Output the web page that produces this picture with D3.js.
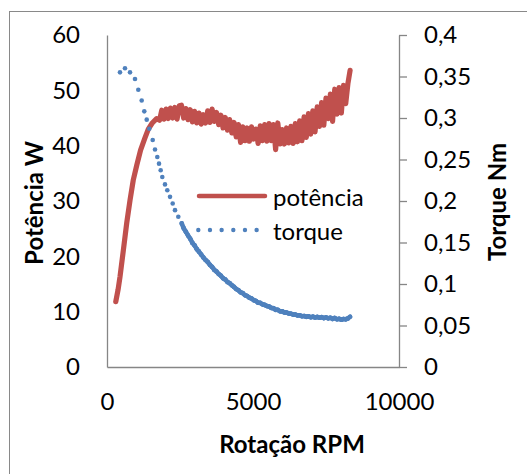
<!DOCTYPE html>
<html>
<head>
<meta charset="utf-8">
<script src="https://cdn.jsdelivr.net/npm/d3@7"></script>
<style>
  body { margin: 0; background: #fff; }
  svg text { font-family: Lato, "Open Sans", sans-serif; fill: #000; }
</style>
</head>
<body>
<div id="chart"></div>
<script>
// potência (W) vs rotação (RPM)
const powerRpm = [300, 380, 445, 560, 675, 790, 900, 1020, 1150, 1300, 1415, 1550, 1700,
  1800, 1875, 1950, 2025, 2100, 2175, 2250, 2325, 2400, 2475, 2550, 2625, 2700, 2775, 2850, 2925,
  3000, 3075, 3150, 3225, 3300, 3375, 3450, 3525, 3600, 3675, 3750, 3825, 3900, 3975,
  4050, 4125, 4200, 4275, 4350, 4425, 4500, 4575, 4650, 4725, 4800, 4875, 4950,
  5025, 5100, 5175, 5250, 5325, 5400, 5475, 5550, 5625, 5700, 5775, 5850, 5925,
  6000, 6075, 6150, 6225, 6300, 6375, 6450, 6525, 6600, 6675, 6750, 6825, 6900, 6975,
  7050, 7125, 7200, 7275, 7350, 7425, 7500, 7575, 7650, 7725, 7800, 7875, 7950,
  8025, 8100, 8175, 8250, 8325];
const power = [11.8, 14.0, 16.3, 21.1, 26.0, 30.2, 33.8, 36.5, 39.2, 41.4, 43.0, 44.1, 44.9,
  44.6, 46.4, 44.8, 46.6, 44.9, 46.8, 45.0, 46.9, 44.8, 47.2, 47.3, 45.0, 46.7, 44.7, 46.5, 44.3,
  46.2, 44.1, 45.9, 43.9, 45.6, 44.1, 46.3, 44.2, 46.6, 44.4, 46.0, 43.8, 45.5, 43.2,
  45.1, 42.8, 44.7, 42.3, 44.2, 41.6, 43.8, 40.6, 43.4, 40.9, 43.2, 40.8, 43.4,
  41.2, 43.0, 40.4, 43.6, 40.9, 43.8, 40.8, 44.0, 40.9, 43.8, 39.3, 44.1, 40.3,
  42.9, 40.3, 43.2, 40.5, 43.5, 40.4, 44.0, 40.7, 44.5, 40.9, 45.2, 41.5, 45.8, 42.1,
  46.3, 42.5, 47.0, 43.5, 47.8, 43.7, 48.6, 44.9, 49.3, 44.4, 50.2, 45.7, 50.5,
  45.9, 50.9, 47.6, 51.2, 53.6];

// torque (Nm) vs rotação (RPM)
const torqueRpm = [445, 616, 788, 959, 1072, 1188, 1277, 1360, 1449, 1565, 1644, 1723, 1781,
  1839, 1894, 1986, 2065, 2158, 2250, 2329, 2442, 2558, 2630,
  2700, 2775, 2850, 2925, 3000, 3075, 3150, 3225, 3300, 3375, 3450, 3525, 3600, 3675,
  3750, 3825, 3900, 3975, 4050, 4125, 4200, 4275, 4350, 4425, 4500, 4575, 4650, 4725,
  4800, 4875, 4950, 5025, 5100, 5175, 5250, 5325, 5400, 5475, 5550, 5625, 5700, 5775,
  5850, 5925, 6000, 6075, 6150, 6225, 6300, 6375, 6450, 6525, 6600, 6675, 6750, 6825,
  6900, 6975, 7050, 7125, 7200, 7275, 7350, 7425, 7500, 7575, 7650, 7725, 7800, 7875,
  7950, 8025, 8100, 8175, 8250, 8325];
const torque = [0.355, 0.360, 0.355, 0.347, 0.334, 0.321, 0.308, 0.298, 0.287, 0.2735, 0.262, 0.253, 0.245,
  0.237, 0.229, 0.220, 0.213, 0.205, 0.197, 0.189, 0.181, 0.173, 0.167,
  0.1630, 0.1585, 0.1545, 0.1495, 0.1465, 0.1420, 0.1390, 0.1355, 0.1320, 0.1290, 0.1265, 0.1230, 0.1205, 0.1170,
  0.1150, 0.1120, 0.1100, 0.1070, 0.1055, 0.1025, 0.1010, 0.0985, 0.0965, 0.0940, 0.0925, 0.0900, 0.0890, 0.0865,
  0.0855, 0.0835, 0.0825, 0.0805, 0.0795, 0.0775, 0.0772, 0.0755, 0.0748, 0.0735, 0.0728, 0.0712, 0.0708, 0.0690,
  0.0688, 0.0672, 0.0670, 0.0658, 0.0655, 0.0645, 0.0642, 0.0632, 0.0631, 0.0622, 0.0623, 0.0612, 0.0614, 0.0605,
  0.0610, 0.0600, 0.0606, 0.0597, 0.0603, 0.0594, 0.0600, 0.0590, 0.0597, 0.0587, 0.0593, 0.0580, 0.0590, 0.0576,
  0.0580, 0.0570, 0.0578, 0.0575, 0.0585, 0.0605];

const xTicks = [0, 5000, 10000];
const xTickLabels = ["0", "5000", "10000"];
const leftTicks = [0, 10, 20, 30, 40, 50, 60];
const rightTicks = [0, 0.05, 0.1, 0.15, 0.2, 0.25, 0.3, 0.35, 0.4];
const rightTickLabels = ["0", "0,05", "0,1", "0,15", "0,2", "0,25", "0,3", "0,35", "0,4"];
const seriesNames = ["potência", "torque"];

const width = 527, height = 474;
const red = "#c0504d", blue = "#4f81bd", grey = "#868686";
const fontSize = 24;

const svg = d3.select("#chart")
  .append("svg")
  .attr("width", width)
  .attr("height", height);

// outer chart border
svg.append("rect")
  .attr("x", 9.5).attr("y", 11.5)
  .attr("width", 540).attr("height", 480)
  .attr("fill", "none")
  .attr("stroke", "#898989");

const x = d3.scaleLinear().domain([0, 10000]).range([107, 399]);
const yL = d3.scaleLinear().domain([0, 60]).range([367, 35]);
const yR = d3.scaleLinear().domain([0, 0.4]).range([367, 35]);

const styleAxis = g => {
  g.select(".domain").attr("stroke", grey).attr("stroke-width", 1.3);
  g.selectAll(".tick line").attr("stroke", grey).attr("stroke-width", 1.3);
  g.selectAll("text").attr("font-size", fontSize).attr("fill", "#000");
  g.attr("font-family", null);
};

svg.append("g")
  .attr("transform", `translate(0,${yL(0)})`)
  .call(d3.axisBottom(x).tickValues(xTicks).tickSize(0).tickSizeOuter(0).tickPadding(26)
    .tickFormat((d, i) => xTickLabels[i]))
  .call(styleAxis);

svg.append("g")
  .attr("transform", `translate(${x(0)},0)`)
  .call(d3.axisLeft(yL).tickValues(leftTicks).tickSize(0).tickSizeOuter(0).tickPadding(27))
  .call(styleAxis);

svg.append("g")
  .attr("transform", `translate(${x(10000)},0)`)
  .call(d3.axisRight(yR).tickValues(rightTicks).tickSize(8).tickSizeOuter(0).tickPadding(17)
    .tickFormat((d, i) => rightTickLabels[i]))
  .call(styleAxis);

// axis titles
svg.append("text")
  .attr("x", 292).attr("y", 443)
  .attr("text-anchor", "middle").attr("dominant-baseline", "central")
  .attr("font-size", fontSize).attr("font-weight", "bold")
  .text("Rotação RPM");

svg.append("text")
  .attr("transform", "translate(33,203) rotate(-90)")
  .attr("text-anchor", "middle").attr("dominant-baseline", "central")
  .attr("font-size", fontSize).attr("font-weight", "bold")
  .text("Potência W");

svg.append("text")
  .attr("transform", "translate(496,202) rotate(-90)")
  .attr("text-anchor", "middle").attr("dominant-baseline", "central")
  .attr("font-size", fontSize).attr("font-weight", "bold")
  .text("Torque Nm");

// series
const powerData = powerRpm.map((r, i) => [r, power[i]]);
const torqueData = torqueRpm.map((r, i) => [r, torque[i]]);

svg.append("path")
  .datum(powerData)
  .attr("fill", "none")
  .attr("stroke", red)
  .attr("stroke-width", 5.2)
  .attr("stroke-linejoin", "round")
  .attr("stroke-linecap", "round")
  .attr("d", d3.line().x(d => x(d[0])).y(d => yL(d[1])));

// round-dot line: where points sit close together the dots merge into a band
const torquePairs = d3.pairs(torqueData)
  .filter(([a, b]) => Math.hypot(x(b[0]) - x(a[0]), yR(b[1]) - yR(a[1])) < 6);

svg.append("g")
  .attr("stroke", blue)
  .attr("stroke-width", 4.6)
  .attr("stroke-linecap", "round")
  .selectAll("line")
  .data(torquePairs)
  .join("line")
  .attr("x1", d => x(d[0][0])).attr("y1", d => yR(d[0][1]))
  .attr("x2", d => x(d[1][0])).attr("y2", d => yR(d[1][1]));

svg.append("g")
  .attr("fill", blue)
  .selectAll("circle")
  .data(torqueData)
  .join("circle")
  .attr("cx", d => x(d[0]))
  .attr("cy", d => yR(d[1]))
  .attr("r", 2.3);

// legend
const legend = svg.append("g");
legend.append("line")
  .attr("x1", 199).attr("x2", 265).attr("y1", 196).attr("y2", 196)
  .attr("stroke", red).attr("stroke-width", 4.5).attr("stroke-linecap", "round");
legend.append("line")
  .attr("x1", 198.3).attr("x2", 260).attr("y1", 230).attr("y2", 230)
  .attr("stroke", blue).attr("stroke-width", 4.4).attr("stroke-linecap", "round")
  .attr("stroke-dasharray", "0 11.67");
legend.selectAll("text")
  .data(seriesNames)
  .join("text")
  .attr("x", 273)
  .attr("y", (d, i) => 196 + i * 34)
  .attr("dominant-baseline", "central")
  .attr("font-size", fontSize)
  .text(d => d);
</script>
</body>
</html>
